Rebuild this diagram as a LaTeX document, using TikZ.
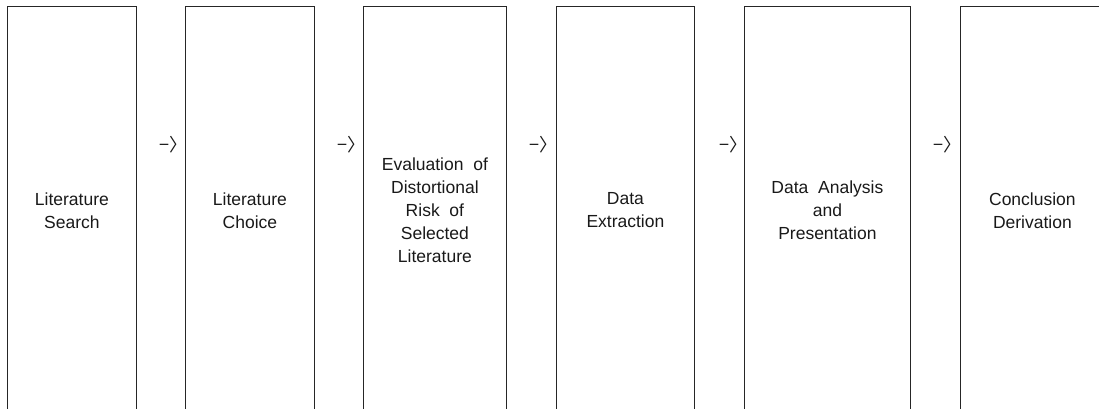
\documentclass[tikz,border=0pt]{standalone}
\usepackage{fontspec}
\setmainfont{Liberation Sans}
\newfontfamily\cjkfont{Noto Sans CJK KR}
\usepackage{tikz}
\tikzset{stage/.style={draw=black!85, line width=0.8pt, rectangle,
        anchor=north west, minimum height=408pt, inner sep=0pt,
        align=center, text=black!90, font=\fontsize{17.5}{23}\selectfont},
    flow/.style={anchor=west, inner sep=0pt, text=black!90,
        font=\cjkfont\fontsize{18}{18}\selectfont}}

\begin{document}
\begin{tikzpicture}[x=1pt,y=-1pt]
    \useasboundingbox (0,0) rectangle (1099,409);
    \clip (0,0) rectangle (1099,409);
        \node[stage, minimum width=129pt] (search) at (7,6) {Literature\\Search};
        \node[stage, minimum width=129pt] (choice) at (185,6) {Literature\\Choice};
        \node[stage, minimum width=143pt] (risk) at (363,6)
            {Evaluation \ of\\Distortional\\Risk \ of\\Selected\\Literature};
        \node[stage, minimum width=138pt] (extract) at (556,6) {Data\\Extraction};
        \node[stage, minimum width=166pt] (analysis) at (744,6)
            {Data \ Analysis\\and\\Presentation};
        \node[stage, minimum width=144pt] (conclusion) at (960,6) {Conclusion\\Derivation};
        % steps between the stages
        \node[flow] (step1) at (159,145) {−〉};
        \node[flow] (step2) at (337,145) {−〉};
        \node[flow] (step3) at (529,145) {−〉};
        \node[flow] (step4) at (719,145) {−〉};
        \node[flow] (step5) at (933,145) {−〉};
    \end{tikzpicture}
\end{document}
